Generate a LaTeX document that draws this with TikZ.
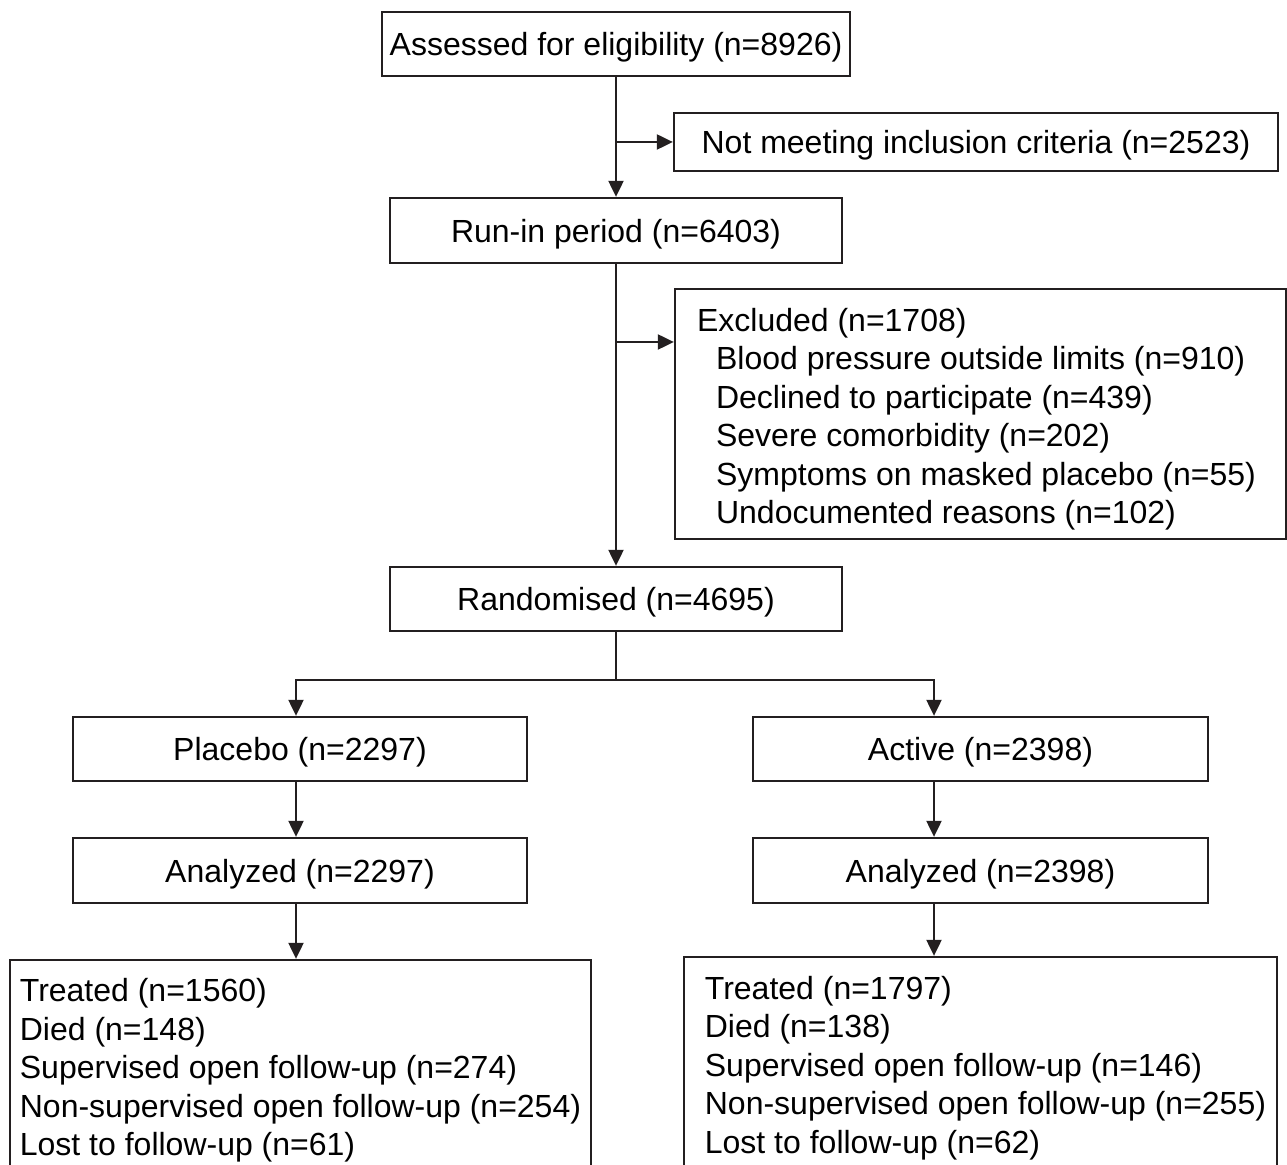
\documentclass[tikz,border=0pt]{standalone}
\usepackage{fontspec}
\setmainfont{Liberation Sans}
\usetikzlibrary{arrows.meta}
\definecolor{ink}{HTML}{231F20}
\newcommand\mytopstrut{\rule{0pt}{15.1pt}}
\newcommand\mylinestrut[1]{\rule{0pt}{#1}}
\begin{document}
\begin{tikzpicture}[x=0.5pt,y=-0.5pt,
  box/.style={draw=ink,line width=1.15pt,inner sep=0pt,text=black,
    font=\fontsize{16}{19.25}\selectfont},
  sbox/.style={box,execute at begin node=\mytopstrut},
  lbox/.style={box,align=left},
  arr/.style={draw=ink,line width=1.05pt,-{Triangle[length=8pt,width=7.5pt]}},
  ln/.style={draw=ink,line width=1.05pt}]
\useasboundingbox (0,0) rectangle (1287,1165);
\clip (0,0) rectangle (1287,1165);
\fill[white] (0,0) rectangle (1287,1165);

\node[sbox,minimum width=234pt,minimum height=32pt] (assess) at (616,44) {Assessed for eligibility (n=8926)};
\node[sbox,minimum width=302pt,minimum height=29pt] (notmeet) at (976,142) {Not meeting inclusion criteria (n=2523)};
\node[sbox,minimum width=226pt,minimum height=32.5pt] (runin) at (616,230.5) {Run-in period (n=6403)};
\node[lbox,minimum width=305.5pt,minimum height=125pt] (excl) at (980.5,414) {\mylinestrut{16.6pt}Excluded (n=1708)\\
\hspace*{9.5pt}Blood pressure outside limits (n=910)\\
\hspace*{9.5pt}Declined to participate (n=439)\\
\hspace*{9.5pt}Severe comorbidity (n=202)\\
\hspace*{9.5pt}Symptoms on masked placebo (n=55)\rule{4pt}{0pt}\\
\hspace*{9.5pt}Undocumented reasons (n=102)};
\node[sbox,minimum width=226pt,minimum height=32pt] (rand) at (616,599) {Randomised (n=4695)};
\node[sbox,minimum width=227pt,minimum height=32pt] (placebo) at (300,749) {Placebo (n=2297)};
\node[sbox,minimum width=227.5pt,minimum height=32pt] (active) at (980.5,749) {Active (n=2398)};
\node[sbox,minimum width=227pt,minimum height=32.5pt] (analL) at (300,870.5) {Analyzed (n=2297)};
\node[sbox,minimum width=227.5pt,minimum height=32.5pt] (analR) at (980.5,870.5) {Analyzed (n=2398)};
\node[lbox,minimum width=290.5pt,minimum height=106.5pt] (botL) at (300.5,1066.5) {\mylinestrut{15.6pt}Treated (n=1560)\\
Died (n=148)\\
Supervised open follow-up (n=274)\\
Non-supervised open follow-up (n=254)\\
Lost to follow-up (n=61)};
\node[lbox,minimum width=296.5pt,minimum height=108pt] (botR) at (980.5,1065) {\hspace*{5pt}\mylinestrut{14.6pt}Treated (n=1797)\\
\hspace*{5pt}Died (n=138)\\
\hspace*{5pt}Supervised open follow-up (n=146)\\
\hspace*{5pt}Non-supervised open follow-up (n=255)\\
\hspace*{5pt}Lost to follow-up (n=62)};

\coordinate (b1) at (616,142);
\coordinate (b2) at (616,342);
\coordinate (split) at (616,680);
\coordinate (sl) at (296,680);
\coordinate (sr) at (934,680);

\draw[arr] (assess.south) -- (runin.north);
\draw[arr] (b1) -- (notmeet.west);
\draw[arr] (runin.south) -- (rand.north);
\draw[arr] (b2) -- (b2 -| excl.west);
\draw[ln] (rand.south) -- (split);
\draw[arr] (split) -- (sl) -- (sl |- placebo.north);
\draw[arr] (split) -- (sr) -- (sr |- active.north);
\draw[arr] (placebo.south -| sl) -- (analL.north -| sl);
\draw[arr] (analL.south -| sl) -- (botL.north -| sl);
\draw[arr] (active.south -| sr) -- (analR.north -| sr);
\draw[arr] (analR.south -| sr) -- (botR.north -| sr);
\end{tikzpicture}
\end{document}
